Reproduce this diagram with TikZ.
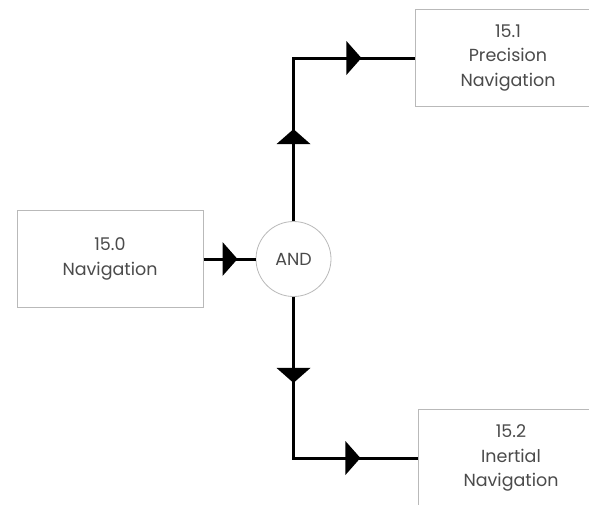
\documentclass[tikz,border=0pt]{standalone}
\usepackage{fontspec}
\setmainfont{Poppins}
\usetikzlibrary{decorations.markings}
\definecolor{boxline}{RGB}{185,185,185}
\definecolor{txt}{RGB}{75,75,75}
\newcommand\myhead{\fill[black] (0,0) .. controls (-7.5,8) .. (-15,17) -- (-15,-17) .. controls (-7.5,-8) .. (0,0) -- cycle;}
\tikzset{
  procbox/.style={draw=boxline, line width=1pt, fill=white, text=txt, align=center,
    minimum width=186pt, minimum height=97pt, inner sep=0pt,
    font=\fontsize{17.5}{24.5}\selectfont},
  andnode/.style={circle, draw=boxline, line width=0.8pt, fill=white, text=txt,
    minimum size=75pt, inner sep=0pt, font=\fontsize{17.5}{24}\selectfont},
  conn/.style={line width=3pt, black},
  headat/.style={postaction={decorate, decoration={markings, mark=at position #1 with {\myhead}}}}
}
\begin{document}
\begin{tikzpicture}[x=1pt,y=-1pt]
\useasboundingbox (0,0) rectangle (589,504);
\clip (0,0) rectangle (589,504);
\fill[white] (0,0) rectangle (589,504);
\node[procbox] (n0) at (110,259) {15.0\\Navigation};
\node[procbox] (n1) at (508,58) {15.1\\Precision\\Navigation};
\node[procbox] (n2) at (511,458) {15.2\\Inertial\\Navigation};
\node[andnode] (and) at (293.5,259) {AND};
\draw[conn, headat=34pt] (n0.east) -- (and.west);
\draw[conn, headat=92pt, headat=231pt] (and.north) |- (n1.west);
\draw[conn, headat=86pt, headat=228pt] (and.south) |- (n2.west);
\end{tikzpicture}
\end{document}
